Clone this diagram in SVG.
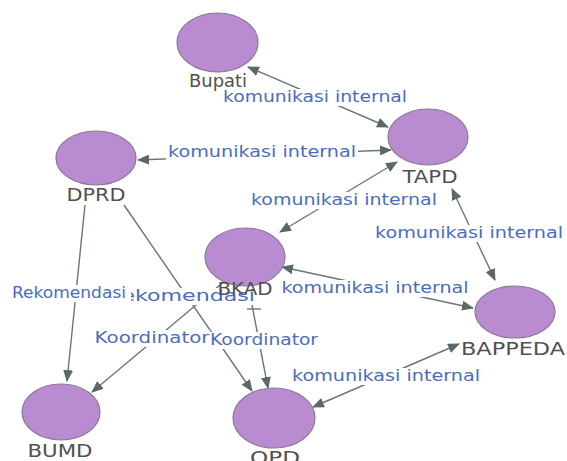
<svg xmlns="http://www.w3.org/2000/svg" width="567" height="461" viewBox="0 0 567 461">
<defs>
<marker id="ah" viewBox="0 0 12 10" refX="11" refY="5" markerWidth="12" markerHeight="10" markerUnits="userSpaceOnUse" orient="auto-start-reverse"><path d="M0,0 L12,5 L0,10 z" fill="#5b6868"/></marker>
<style>
.e{stroke:#6b7676;stroke-width:1.4;fill:none}
.bi{marker-start:url(#ah);marker-end:url(#ah)}
.uni{marker-end:url(#ah)}
.lb{fill:#fff}
.lt{font-family:"DejaVu Sans",sans-serif;font-size:16.5px;fill:#4a6cc0;text-anchor:middle}
.n ellipse{fill:#b98cd2;stroke:#8c7898;stroke-width:1.2}
.n text{font-family:"DejaVu Sans",sans-serif;font-size:17px;fill:#505050;text-anchor:middle}
</style>
</defs>
<rect width="567" height="461" fill="#fff"/>
<g id="connectors">
<path class="e bi" d="M248,67 L388,127"/>
<path class="e bi" d="M138,160 L391,150"/>
<path class="e bi" d="M397,162 L280,232"/>
<path class="e bi" d="M452,189 L495,280"/>
<path class="e bi" d="M282,267 L473,308"/>
<path class="e bi" d="M459,344 L313,407"/>
<path class="e uni" d="M85,205 L67,381"/>
<path class="e uni" d="M124,205 L252,391"/>
<path class="e uni" d="M226,280 L92,392"/>
<path class="e uni" d="M251,300 L268,388"/>
<path class="e" d="M247,309 L261,309"/>
<g id="labels">
<rect class="lb" x="221" y="89" width="188" height="17"/><text class="lt" x="315" y="102" textLength="184" lengthAdjust="spacingAndGlyphs">komunikasi internal</text>
<rect class="lb" x="166" y="144" width="192" height="17"/><text class="lt" x="262" y="157" textLength="188" lengthAdjust="spacingAndGlyphs">komunikasi internal</text>
<rect class="lb" x="249" y="192" width="190" height="17"/><text class="lt" x="344" y="205" textLength="186" lengthAdjust="spacingAndGlyphs">komunikasi internal</text>
<rect class="lb" x="373" y="225" width="192" height="17"/><text class="lt" x="469" y="238" textLength="188" lengthAdjust="spacingAndGlyphs">komunikasi internal</text>
<rect class="lb" x="279" y="280" width="191" height="17"/><text class="lt" x="375" y="293" textLength="187" lengthAdjust="spacingAndGlyphs">komunikasi internal</text>
<rect class="lb" x="290" y="368" width="192" height="17"/><text class="lt" x="386" y="381" textLength="188" lengthAdjust="spacingAndGlyphs">komunikasi internal</text>
<rect class="lb" x="105" y="288" width="152" height="17"/><text class="lt" x="181" y="301" textLength="148" lengthAdjust="spacingAndGlyphs">Rekomendasi</text>
<rect class="lb" x="10" y="285" width="121" height="17"/><text class="lt" x="69" y="298" textLength="114" lengthAdjust="spacingAndGlyphs">Rekomendasi</text>
<rect class="lb" x="208" y="332" width="112" height="17"/><text class="lt" x="264" y="345" textLength="108" lengthAdjust="spacingAndGlyphs">Koordinator</text>
<rect class="lb" x="93" y="330" width="117" height="17"/><text class="lt" x="152" y="343" textLength="115" lengthAdjust="spacingAndGlyphs">Koordinator</text>
</g>
</g>
<g id="Bupati" class="n"><ellipse cx="217.5" cy="42.5" rx="40.5" ry="29.5"/><text x="218" y="87" textLength="58" lengthAdjust="spacingAndGlyphs">Bupati</text></g>
<g id="TAPD" class="n"><ellipse cx="428" cy="137" rx="40" ry="28"/><text x="430" y="183" textLength="55" lengthAdjust="spacingAndGlyphs">TAPD</text></g>
<g id="DPRD" class="n"><ellipse cx="96" cy="158" rx="40" ry="27"/><text x="96" y="201" textLength="59" lengthAdjust="spacingAndGlyphs">DPRD</text></g>
<g id="BKAD" class="n"><ellipse cx="245" cy="257" rx="40" ry="29"/><text x="245" y="295" textLength="55" lengthAdjust="spacingAndGlyphs">BKAD</text></g>
<g id="BAPPEDA" class="n"><ellipse cx="515" cy="312" rx="40" ry="26"/><text x="513" y="355" textLength="104" lengthAdjust="spacingAndGlyphs">BAPPEDA</text></g>
<g id="OPD" class="n"><ellipse cx="274" cy="418" rx="41" ry="30"/><text x="275" y="464" textLength="50" lengthAdjust="spacingAndGlyphs">OPD</text></g>
<g id="BUMD" class="n"><ellipse cx="61" cy="412" rx="39" ry="28"/><text x="60" y="457" textLength="65" lengthAdjust="spacingAndGlyphs">BUMD</text></g>
</svg>
